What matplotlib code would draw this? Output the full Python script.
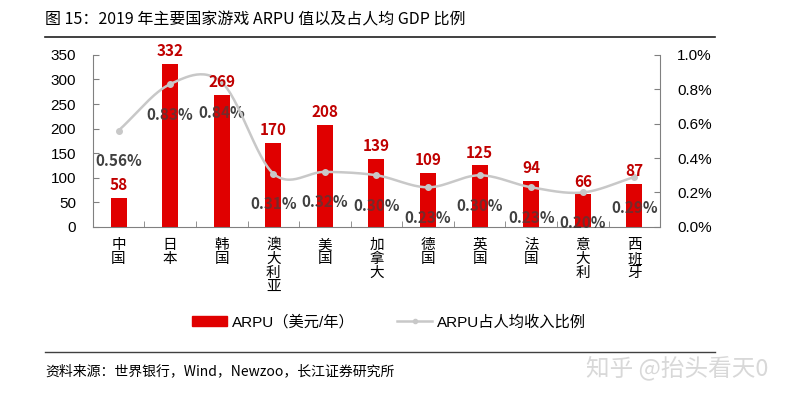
import numpy as np
import matplotlib
matplotlib.use("Agg")
import matplotlib.pyplot as plt
from matplotlib.lines import Line2D
from matplotlib.patches import Patch

plt.rcParams['font.family'] = ['Noto Sans CJK SC', 'DejaVu Sans']

countries = ["中国", "日本", "韩国", "澳大利亚", "美国", "加拿大", "德国", "英国", "法国", "意大利", "西班牙"]
arpu = [58, 332, 269, 170, 208, 139, 109, 125, 94, 66, 87]
ratio = [0.56, 0.83, 0.84, 0.31, 0.32, 0.30, 0.23, 0.30, 0.23, 0.20, 0.29]  # percent
left_ticks = [0, 50, 100, 150, 200, 250, 300, 350]
right_ticks = [0.0, 0.2, 0.4, 0.6, 0.8, 1.0]

title = "图 15：2019 年主要国家游戏 ARPU 值以及占人均 GDP 比例"
source = "资料来源：世界银行，Wind，Newzoo，长江证券研究所"
watermark = "知乎 @抬头看天0"

bar_color = "#E00000"
label_red = "#C00000"
line_color = "#C8C8C8"
pct_color = "#404040"
axis_color = "#808080"

fig = plt.figure(figsize=(7.86, 3.98), dpi=100)
ax = fig.add_axes([0.118, 0.430, 0.722, 0.432])
ax2 = ax.twinx()

x = np.arange(len(countries))
ax.set_xlim(-0.5, len(countries) - 0.5)
ax.set_ylim(0, 350)
ax2.set_ylim(0, 1.0)

ax.bar(x, arpu, width=0.31, color=bar_color, zorder=2)
ax.set_yticks(left_ticks)
ax.set_yticklabels([str(t) for t in left_ticks], fontsize=11, family=['Liberation Sans'])
ax.set_xticks(x)
ax.set_xticklabels(['\n'.join(c) for c in countries], fontsize=10.5, linespacing=1.0, va='top')
ax.tick_params(axis='x', length=0, pad=8)
ax.set_xticks(np.arange(-0.5, len(countries)), minor=True)
ax.tick_params(axis='x', which='minor', direction='in', length=4, color=axis_color)
ax.tick_params(axis='y', direction='in', length=4, color=axis_color, pad=12)
for s in ['top', 'right']:
    ax.spines[s].set_visible(False)
for s in ['left', 'bottom']:
    ax.spines[s].set_color(axis_color)

# percentage labels (partly covered by bars, as in the source chart)
r = np.array(ratio)
for xi, v in zip(x, r):
    ax.annotate(f"{v:.2f}%", (xi, v), xycoords=ax2.transData, xytext=(0, -22),
                textcoords='offset points', ha='center', va='center', color=pct_color,
                fontsize=11, fontweight='bold', zorder=3)
ax.bar(x, arpu, width=0.31, color=bar_color, alpha=0.35, zorder=4)

# smooth line (Excel style smoothing of the series)
xs_all, ys_all = [], []
n = len(r)
for i in range(n - 1):
    p0 = r[i - 1] if i > 0 else r[i]
    p1, p2 = r[i], r[i + 1]
    p3 = r[i + 2] if i + 2 < n else r[i + 1]
    m1 = (p2 - p0) / (2 if i > 0 else 1)
    m2 = (p3 - p1) / (2 if i + 2 < n else 1)
    t = np.linspace(0, 1, 30)
    h00 = 2 * t**3 - 3 * t**2 + 1
    h10 = t**3 - 2 * t**2 + t
    h01 = -2 * t**3 + 3 * t**2
    h11 = t**3 - t**2
    ys_all.append(h00 * p1 + h10 * m1 + h01 * p2 + h11 * m2)
    xs_all.append(i + t)
ax.plot(np.concatenate(xs_all), np.concatenate(ys_all), color=line_color, lw=1.8,
        zorder=5, transform=ax2.transData)
ax.plot(x, r, 'o', color=line_color, ms=4, zorder=5, transform=ax2.transData)

for xi, v in zip(x, arpu):
    ax.text(xi, v + 10, str(v), ha='center', va='bottom', color=label_red,
            fontsize=11, fontweight='bold', zorder=6)

ax.set_xlim(-0.5, len(countries) - 0.5)
ax.set_ylim(0, 350)

ax2.set_yticks(right_ticks)
ax2.set_yticklabels([f"{t:.1f}%" for t in right_ticks], fontsize=11, family=['Liberation Sans'])
ax2.tick_params(axis='y', direction='in', length=4, color=axis_color, pad=12)
for s in ['top', 'left', 'bottom']:
    ax2.spines[s].set_visible(False)
ax2.spines['right'].set_color(axis_color)
ax2.set_ylim(0, 1.0)
ax.set_zorder(ax2.get_zorder() + 1)
ax.patch.set_visible(False)

handles = [Patch(color=bar_color),
           Line2D([0], [0], color=line_color, lw=1.8, marker='o', ms=3)]
fig.legend(handles, ["ARPU（美元/年）", "ARPU占人均收入比例"], loc='center',
           bbox_to_anchor=(0.495, 0.191), ncol=2, frameon=False,
           prop={'family': ['Liberation Sans', 'Noto Sans CJK SC'], 'size': 11},
           handlelength=2.3, handleheight=0.6, columnspacing=2.8, handletextpad=0.3)

fig.text(45 / 786, 1 - 20 / 398, title, fontsize=11.5, va='center', ha='left')
fig.add_artist(Line2D([45 / 786, 715 / 786], [1 - 37 / 398] * 2, color='#202020', lw=1.2))
fig.add_artist(Line2D([45 / 786, 715 / 786], [1 - 352 / 398] * 2, color='#404040', lw=1.0))
fig.text(45 / 786, 1 - 371 / 398, source, fontsize=10, va='center', ha='left')
fig.text(768 / 786, 1 - 368 / 398, watermark, fontsize=17, va='center', ha='right', color='#D8D8D8')

fig.savefig("out.png", dpi=100)
